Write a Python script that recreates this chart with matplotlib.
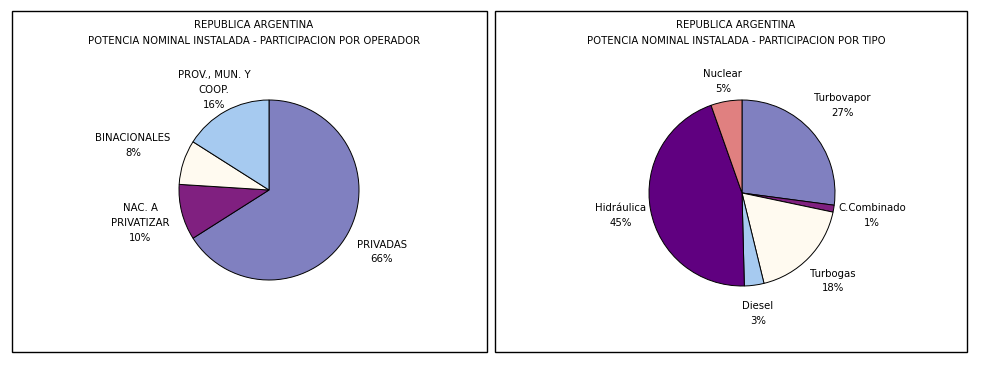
import matplotlib.pyplot as plt
from matplotlib.patches import Rectangle
import numpy as np

plt.rcParams['font.family'] = ['DejaVu Sans']

# participacion por operador (%)
op_labels = ["PRIVADAS", "NAC. A\nPRIVATIZAR", "BINACIONALES", "PROV., MUN. Y\nCOOP."]
op_values = [66, 10, 8, 16]
op_colors = ['#8080c0', '#802080', '#fffaf0', '#a6caf0']

# participacion por tipo (%)
tipo_labels = ["Turbovapor", "C.Combinado", "Turbogas", "Diesel", "Hidráulica", "Nuclear"]
tipo_values = [27.1, 1.2, 17.9, 3.4, 45.0, 5.4]
tipo_colors = ['#8080c0', '#802080', '#fffaf0', '#a6caf0', '#600080', '#e08080']

W, H = 982, 368
FS = 7.3
fig = plt.figure(figsize=(W / 100, H / 100), dpi=100)


def px_axes(x0, y0, x1, y1):
    # pixel box (top-left origin) -> figure axes
    return fig.add_axes([x0 / W, 1 - y1 / H, (x1 - x0) / W, (y1 - y0) / H])


def panel(x0, y0, x1, y1):
    fig.patches.append(Rectangle((x0 / W, 1 - y1 / H), (x1 - x0) / W, (y1 - y0) / H,
                                 transform=fig.transFigure, fill=False,
                                 edgecolor='black', linewidth=1.0))


def draw_pie(ax, values, labels, colors, dists):
    wedges, _ = ax.pie(values, colors=colors, startangle=90, counterclock=False,
                       radius=1, wedgeprops=dict(edgecolor='black', linewidth=0.7))
    total = sum(values)
    for w, lab, v, d in zip(wedges, labels, values, dists):
        ang = np.deg2rad((w.theta1 + w.theta2) / 2)
        ax.text(d * np.cos(ang), d * np.sin(ang), f"{lab}\n{round(v / total * 100)}%",
                ha='center', va='center', fontsize=FS, linespacing=1.62,
                clip_on=False)
    ax.set_xlim(-1, 1)
    ax.set_ylim(-1, 1)
    ax.axis('off')


def title(xc, text):
    fig.text(xc / W, 1 - 25 / H, "REPUBLICA ARGENTINA", ha='center', va='center', fontsize=FS)
    fig.text(xc / W, 1 - 41 / H, text, ha='center', va='center', fontsize=FS)


panel(12, 11, 487, 352)
panel(495, 11, 967, 352)

title(254, "POTENCIA NOMINAL INSTALADA - PARTICIPACION POR OPERADOR")
title(736, "POTENCIA NOMINAL INSTALADA - PARTICIPACION POR TIPO")

ax1 = px_axes(179, 100, 359, 280)
draw_pie(ax1, op_values, op_labels, op_colors, [1.43, 1.48, 1.59, 1.27])

ax2 = px_axes(649, 100, 835, 286)
draw_pie(ax2, tipo_values, tipo_labels, tipo_colors, [1.43, 1.42, 1.36, 1.31, 1.33, 1.22])

fig.savefig("out.png", dpi=100)
